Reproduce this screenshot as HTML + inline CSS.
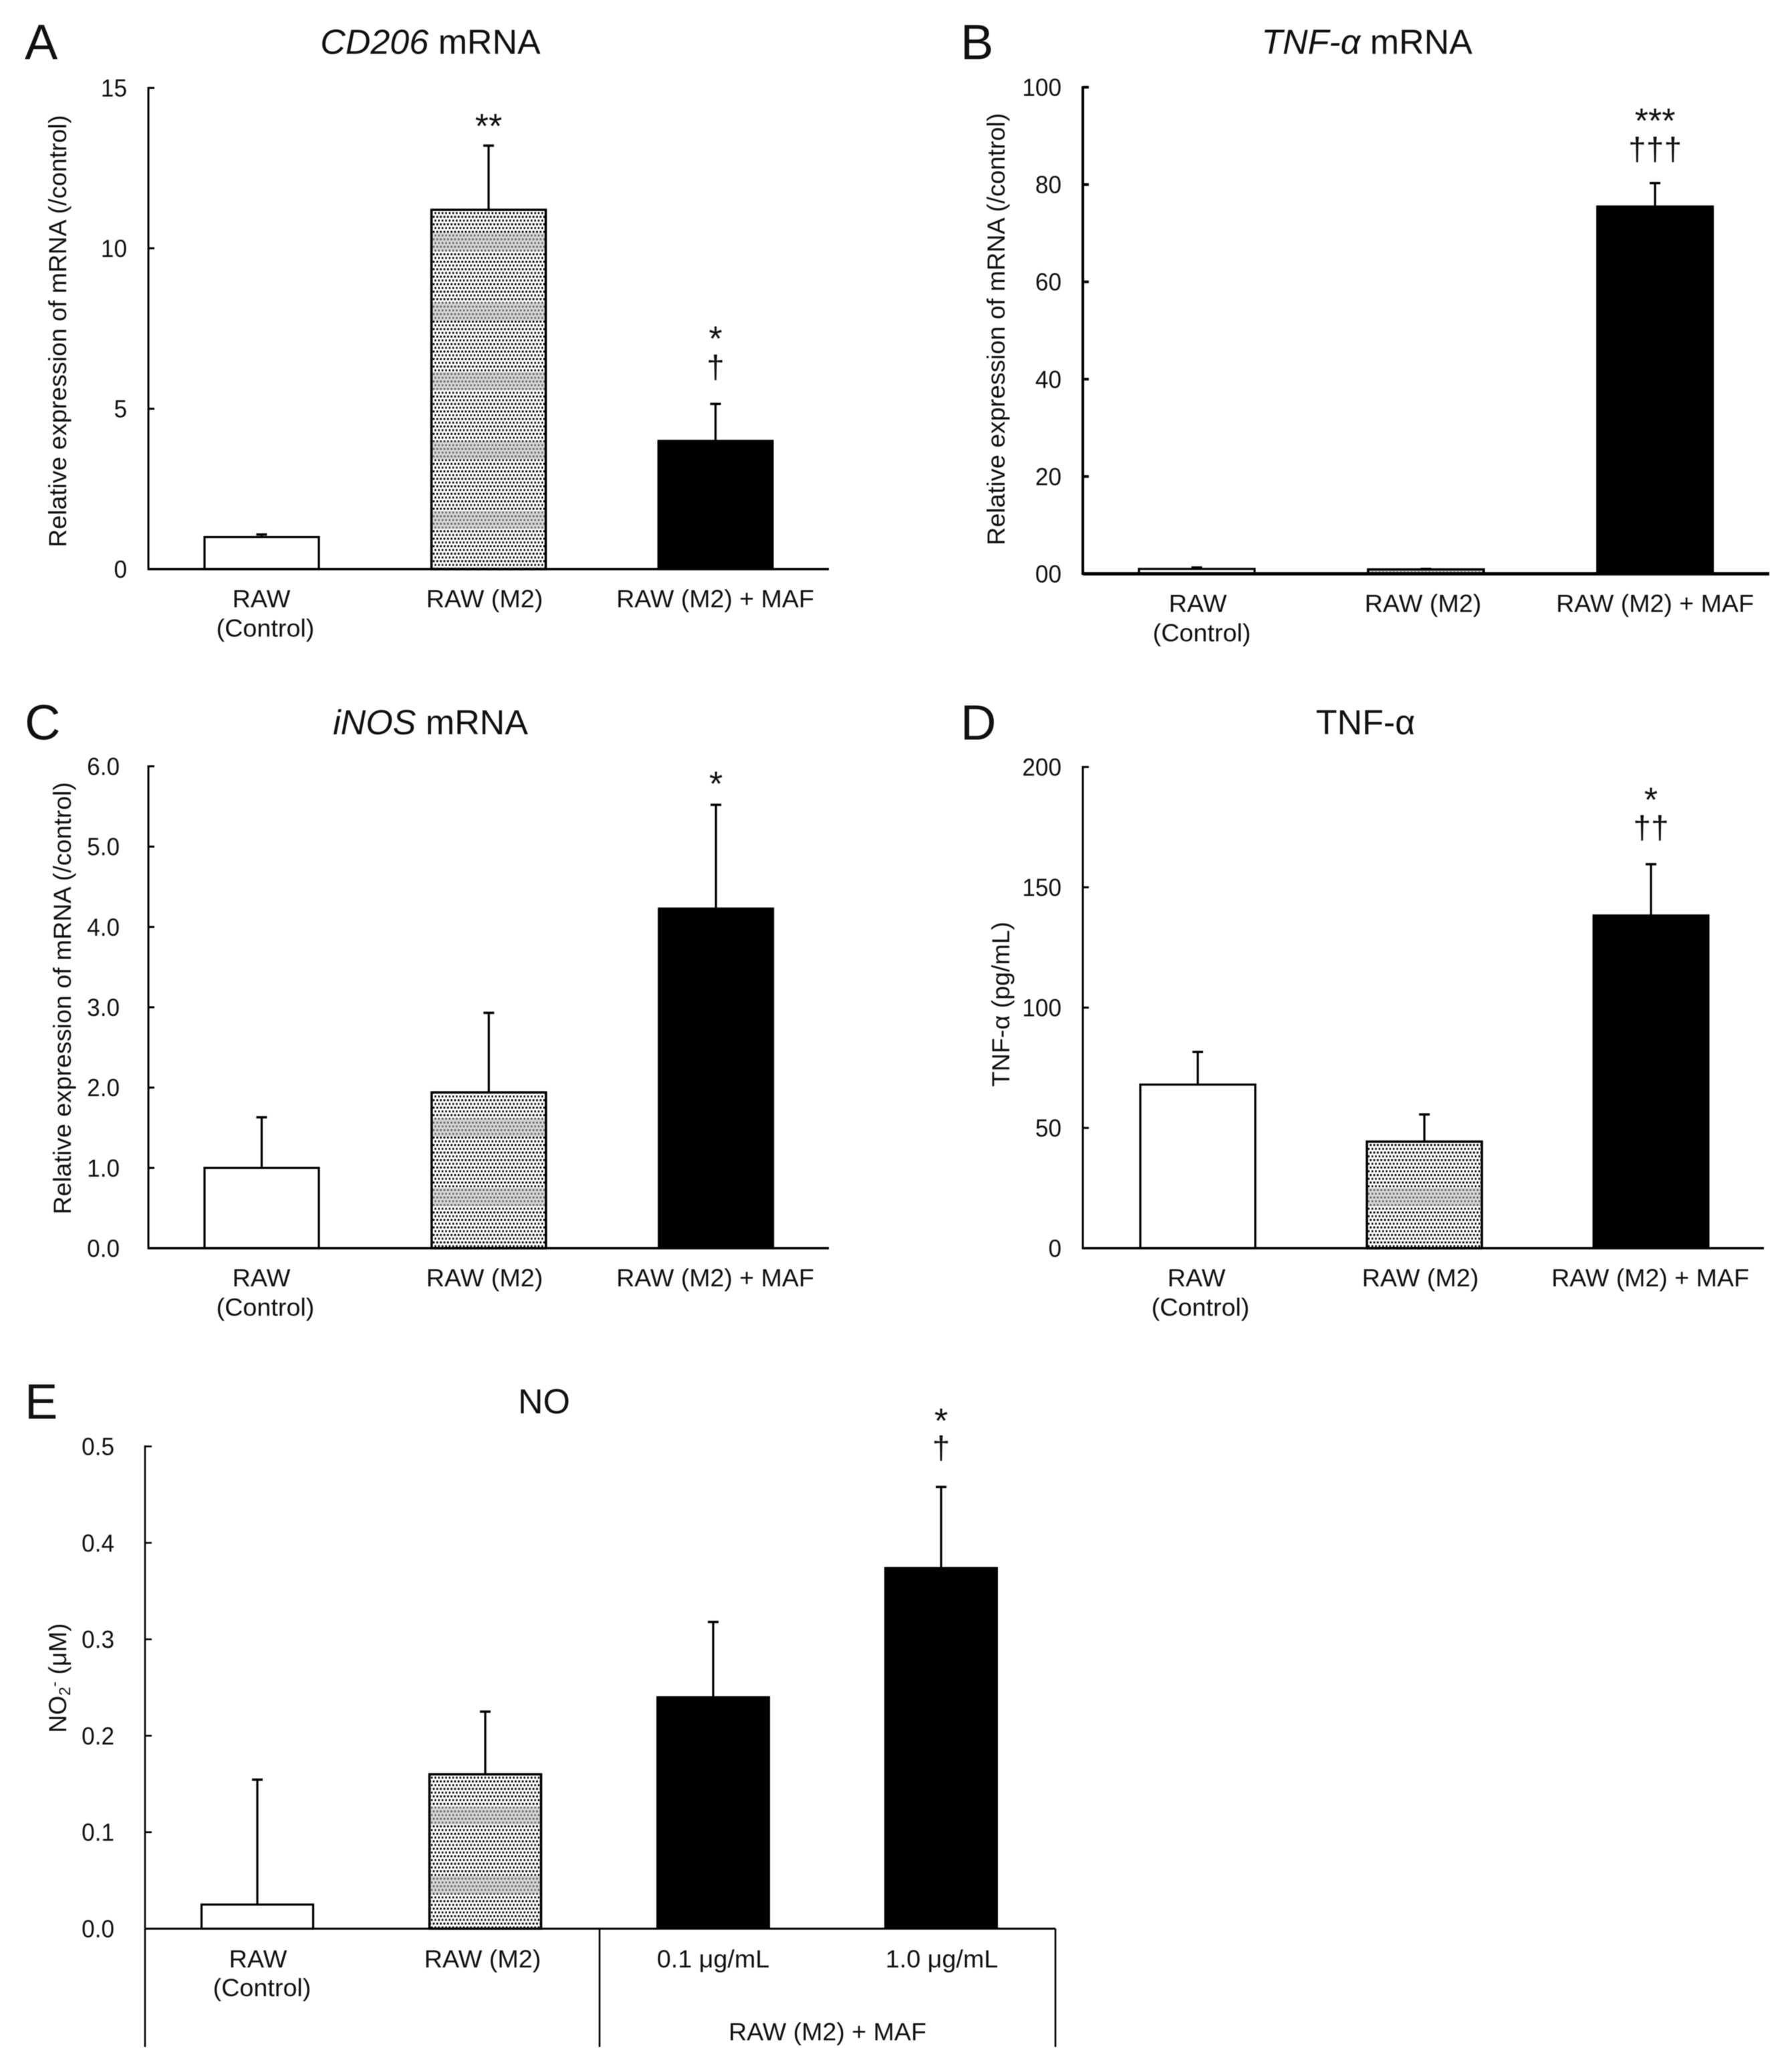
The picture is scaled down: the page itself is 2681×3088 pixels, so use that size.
<!DOCTYPE html>
<html lang="en">
<head>
<meta charset="utf-8">
<title>Expression of macrophage markers</title>
<style>
html,body{margin:0;padding:0;background:#fff;width:2681px;height:3088px;overflow:hidden}
svg{display:block;filter:blur(0.6px)}
text{font-family:"Liberation Sans",sans-serif;fill:#111}
.title{font-size:52px;text-anchor:middle}
.letter{font-size:74px}
.ytitle{font-size:37px;text-anchor:middle}
</style>
</head>
<body>
<svg id="figure" xmlns="http://www.w3.org/2000/svg" width="2681" height="3088" viewBox="0 0 2681 3088">
<rect width="2681" height="3088" fill="#fff"/>
<defs id="defs"></defs>
<g transform="translate(-3,-2.5)">

<text class="letter" x="40" y="91">A</text>
<text class="letter" x="1440" y="91">B</text>
<text class="letter" x="40" y="1109">C</text>
<text class="letter" x="1440" y="1109">D</text>
<text class="letter" x="40" y="2125">E</text>

<text class="title" x="647" y="83"><tspan font-style="italic">CD206</tspan> mRNA</text>
<text class="title" x="2048" y="83"><tspan font-style="italic">TNF-α</tspan> mRNA</text>
<text class="title" x="647" y="1101"><tspan font-style="italic">iNOS</tspan> mRNA</text>
<text class="title" x="2046" y="1101">TNF-α</text>
<text class="title" x="817" y="2117">NO</text>

<text class="ytitle" transform="translate(102,498) rotate(-90) scale(1.015,1)">Relative expression of mRNA (/control)</text>
<text class="ytitle" transform="translate(1506,495) rotate(-90) scale(1.015,1)">Relative expression of mRNA (/control)</text>
<text class="ytitle" transform="translate(109,1496) rotate(-90) scale(1.015,1)">Relative expression of mRNA (/control)</text>
<text class="ytitle" transform="translate(1513,1505) rotate(-90) scale(1.015,1)">TNF-α (pg/mL)</text>
<text class="ytitle" transform="translate(102,2513) rotate(-90)">NO<tspan font-size="24" dy="6">2</tspan><tspan font-size="24" dy="-16">-</tspan><tspan dy="10"> (μM)</tspan></text>

<g id="charts"></g>
</g>
</svg>
<script>
// Panel A: CD206 mRNA
const aCategories = [["RAW","(Control)"],["RAW (M2)"],["RAW (M2) + MAF"]];
const aMeans = [1.0, 11.2, 4.0];
const aUpper = [1.08, 13.2, 5.15];
const aTicks = [0, 5, 10, 15];
const aTickLabels = ["0","5","10","15"];
const aStars = ["", "**", "*"];
const aDaggers = ["", "", "†"];

// Panel B: TNF-alpha mRNA
const bCategories = [["RAW","(Control)"],["RAW (M2)"],["RAW (M2) + MAF"]];
const bMeans = [1.0, 0.9, 75.5];
const bUpper = [1.3, 1.0, 80.3];
const bTicks = [0, 20, 40, 60, 80, 100];
const bTickLabels = ["00","20","40","60","80","100"];
const bStars = ["", "", "***"];
const bDaggers = ["", "", "†††"];

// Panel C: iNOS mRNA
const cCategories = [["RAW","(Control)"],["RAW (M2)"],["RAW (M2) + MAF"]];
const cMeans = [1.0, 1.94, 4.23];
const cUpper = [1.63, 2.93, 5.52];
const cTicks = [0, 1, 2, 3, 4, 5, 6];
const cTickLabels = ["0.0","1.0","2.0","3.0","4.0","5.0","6.0"];
const cStars = ["", "", "*"];
const cDaggers = ["", "", ""];

// Panel D: TNF-alpha protein
const dCategories = [["RAW","(Control)"],["RAW (M2)"],["RAW (M2) + MAF"]];
const dMeans = [68, 44.3, 138.3];
const dUpper = [81.6, 55.6, 159.6];
const dTicks = [0, 50, 100, 150, 200];
const dTickLabels = ["0","50","100","150","200"];
const dStars = ["", "", "*"];
const dDaggers = ["", "", "††"];

// Panel E: NO
const eCategories = [["RAW","(Control)"],["RAW (M2)"],["0.1 μg/mL"],["1.0 μg/mL"]];
const eMeans = [0.025, 0.16, 0.24, 0.374];
const eUpper = [0.1545, 0.225, 0.318, 0.458];
const eTicks = [0, 0.1, 0.2, 0.3, 0.4, 0.5];
const eTickLabels = ["0.0","0.1","0.2","0.3","0.4","0.5"];
const eStars = ["", "", "", "*"];
const eDaggers = ["", "", "", "†"];
const eGroupLabel = "RAW (M2) + MAF";

const fillKinds = ["open", "dots", "solid", "solid"];

const NS = "http://www.w3.org/2000/svg";
const root = document.getElementById("charts");
const defs = document.getElementById("defs");

function mk(parent, tag, attrs, name) {
  const el = document.createElementNS(NS, tag);
  for (const k in attrs) el.setAttribute(k, attrs[k]);
  
  
  parent.appendChild(el);
  return el;
}

function label(parent, str, x, y, size, anchor, sx, name) {
  const t = mk(parent, "text", {
    transform: "translate(" + x + "," + y + ") scale(" + sx + ",1)",
    "font-size": size,
    "text-anchor": anchor
  }, name);
  t.textContent = str;
  return t;
}

function makePatterns(id, bandOffset) {
  const dots = mk(defs, "pattern", {id: id + "-dots", patternUnits: "userSpaceOnUse", width: 5.33, height: 11.2}, id + "-dot-pattern");
  mk(dots, "rect", {width: 5.33, height: 11.2, fill: "#fff"}, "pattern-ground");
  mk(dots, "rect", {x: 0.2, y: 0.6, width: 2.8, height: 3, fill: "#000"}, "pattern-dot");
  mk(dots, "rect", {x: 2.9, y: 6.2, width: 2.8, height: 3, fill: "#000"}, "pattern-dot");
  const band = mk(defs, "pattern", {id: id + "-band", patternUnits: "userSpaceOnUse", width: 2000, height: 104, patternTransform: "translate(0," + bandOffset + ")"}, id + "-band-pattern");
  mk(band, "rect", {width: 2000, height: 27, fill: "#b8b8b8", "fill-opacity": 0.55}, "pattern-band");
}

function drawPanel(p) {
  const g = mk(root, "g", {}, "panel-" + p.id);
  const yScale = v => p.y0 - (p.y0 - p.yTop) * (v - p.min) / (p.max - p.min);
  const xCenter = i => p.x0 + i * p.step;
  makePatterns("fill-" + p.id, p.bandOffset);

  p.means.forEach((m, i) => {
    const cx = xCenter(i);
    const top = yScale(m);
    const up = yScale(p.upper[i]);
    const ebColor = "#000";
    mk(g, "line", {x1: cx, x2: cx, y1: top, y2: up, stroke: ebColor, "stroke-width": 3.2}, "error-bar-" + p.id + "-" + i);
    mk(g, "line", {x1: cx - 8, x2: cx + 8, y1: up, y2: up, stroke: ebColor, "stroke-width": 3.5}, "error-cap-" + p.id + "-" + i);
    const kind = fillKinds[i];
    const box = {x: cx - p.barW / 2, y: top, width: p.barW, height: p.y0 - top};
    if (kind === "dots") {
      mk(g, "rect", Object.assign({}, box, {fill: "url(#fill-" + p.id + "-dots)"}), "bar-" + p.id + "-" + i);
      mk(g, "rect", Object.assign({}, box, {fill: "url(#fill-" + p.id + "-band)"}), "bar-moire-" + p.id + "-" + i);
      mk(g, "rect", Object.assign({}, box, {fill: "none", stroke: "#000", "stroke-width": 3.5}), "bar-outline-" + p.id + "-" + i);
    } else if (kind === "open") {
      mk(g, "rect", Object.assign({}, box, {fill: "#fff", stroke: "#000", "stroke-width": 3.2}), "bar-" + p.id + "-" + i);
    } else {
      mk(g, "rect", Object.assign({}, box, {fill: "#000", stroke: "#000", "stroke-width": 3}), "bar-" + p.id + "-" + i);
    }
    const ax = xCenter(i) + p.markDx;
    if (p.stars[i]) {
      label(g, p.stars[i], ax, p.starY[i] + 27, 52, "middle", 1, "significance-star-" + p.id + "-" + i);
    }
    if (p.daggers[i]) {
      label(g, p.daggers[i], ax, p.daggerY[i] + 15, 48, "middle", 1, "significance-dagger-" + p.id + "-" + i);
    }
  });

  mk(g, "line", {x1: p.axisX, x2: p.axisX, y1: p.yTop - 1.5, y2: p.y0 + 1.5, stroke: "#000", "stroke-width": p.axisW}, "y-axis-" + p.id);
  mk(g, "line", {x1: p.axisX, x2: p.xRight, y1: p.y0, y2: p.y0, stroke: "#000", "stroke-width": p.baseW}, "x-axis-" + p.id);

  p.ticks.forEach((t, i) => {
    const y = yScale(t);
    mk(g, "line", {x1: p.axisX, x2: p.axisX + p.tickLen, y1: y, y2: y, stroke: "#000", "stroke-width": p.axisW}, "y-tick-" + p.id + "-" + i);
    label(g, p.tickLabels[i], p.tickRight, y + 13, 37, "end", 0.95, "y-tick-label-" + p.id + "-" + i);
  });

  p.categories.forEach((lines, i) => {
    const lx = p.labelX[i];
    lines.forEach((s, j) => {
      const sx = s.indexOf("+") >= 0 ? 1.015 : 1.02;
      const dx = j === 1 ? 6 : 0;
      label(g, s, lx + dx, p.labelY + j * p.lineGap, 37, "middle", sx, "x-label-" + p.id + "-" + i + "-" + j);
    });
  });
  return g;
}

drawPanel({id:"a", categories:aCategories, means:aMeans, upper:aUpper, ticks:aTicks, tickLabels:aTickLabels, stars:aStars, daggers:aDaggers,
  min:0, max:15, y0:854, yTop:134, axisX:225, xRight:1243, x0:394.5, step:339.5, barW:171, axisW:3, baseW:3.5, tickLen:9, tickRight:193,
  labelX:[394,728,1073], labelY:911, lineGap:44, starY:[0,182,500], daggerY:[0,0,553], markDx:0, bandOffset:351});
drawPanel({id:"b", categories:bCategories, means:bMeans, upper:bUpper, ticks:bTicks, tickLabels:bTickLabels, stars:bStars, daggers:bDaggers,
  min:0, max:100, y0:861, yTop:133, axisX:1623, xRight:2650, x0:1793.5, step:342.8, barW:173, axisW:4, baseW:5, tickLen:9, tickRight:1591,
  labelX:[1795,2132,2479], labelY:918, lineGap:44, starY:[0,0,174], daggerY:[0,0,227], markDx:0, bandOffset:0});
drawPanel({id:"c", categories:cCategories, means:cMeans, upper:cUpper, ticks:cTicks, tickLabels:cTickLabels, stars:cStars, daggers:cDaggers,
  min:0, max:6, y0:1870, yTop:1149, axisX:225, xRight:1243, x0:394.5, step:339.8, barW:171, axisW:3, baseW:3.5, tickLen:9, tickRight:182,
  labelX:[394,728,1073], labelY:1927, lineGap:44, starY:[0,0,1166], daggerY:[0,0,0], markDx:0, bandOffset:1676});
drawPanel({id:"d", categories:dCategories, means:dMeans, upper:dUpper, ticks:dTicks, tickLabels:dTickLabels, stars:dStars, daggers:dDaggers,
  min:0, max:200, y0:1870, yTop:1150, axisX:1623, xRight:2642, x0:1795, step:339, barW:172, axisW:3, baseW:3.5, tickLen:9, tickRight:1591,
  labelX:[1793,2128,2472], labelY:1927, lineGap:44, starY:[0,0,1190], daggerY:[0,0,1242], markDx:0, bandOffset:1780});
const gE = drawPanel({id:"e", categories:eCategories, means:eMeans, upper:eUpper, ticks:eTicks, tickLabels:eTickLabels, stars:eStars, daggers:eDaggers,
  min:0, max:0.5, y0:2888, yTop:2166.5, axisX:220, xRight:1582, x0:388, step:341, barW:167, axisW:2.6, baseW:3, tickLen:10, tickRight:174,
  labelX:[389,725,1070,1412], labelY:2946, lineGap:43, starY:[0,0,0,2119], daggerY:[0,0,0,2170], markDx:0, bandOffset:2705});

["left","mid","right"].forEach((n, i) => {
  const x = [220, 900, 1582][i];
  mk(gE, "line", {x1: x, x2: x, y1: 2888, y2: 3065, stroke: "#000", "stroke-width": 2.6}, "group-divider-" + n);
});
label(gE, eGroupLabel, 1241, 3055, 37, "middle", 1.015, "group-label-maf");
</script>
</body>
</html>
